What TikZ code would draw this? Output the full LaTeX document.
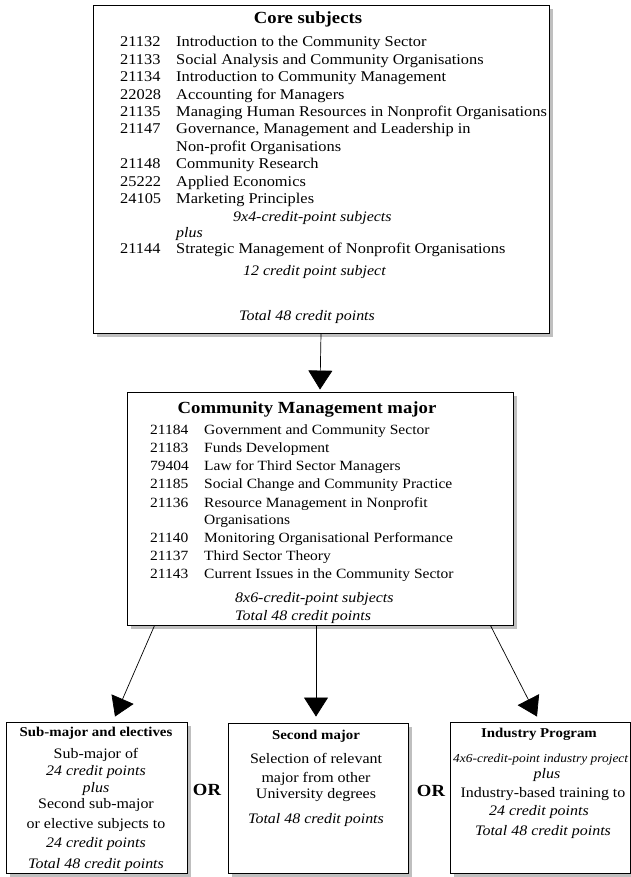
\documentclass[tikz,border=0pt]{standalone}
\usepackage{fontspec}
\setmainfont[FakeStretch=1.1]{Liberation Serif}
\usetikzlibrary{arrows.meta,shadows}

\begin{document}
\begin{tikzpicture}[x=1pt,y=-1pt,
  box/.style={draw=black,line width=0.9pt,fill=white,inner sep=0pt,
    drop shadow={shadow xshift=4pt,shadow yshift=-4pt,fill=gray!50,opacity=1}},
  body/.style={inner sep=0pt,font=\fontsize{14.5}{17}\selectfont},
  row/.style={body,anchor=base west},
  crow/.style={body,anchor=base},
  irow/.style={row,font=\fontsize{14.5}{17}\selectfont\itshape},
  icrow/.style={crow,font=\fontsize{14.5}{17}\selectfont\itshape},
  trow/.style={row,font=\fontsize{14.9}{17}\selectfont},
  mrow/.style={row,font=\fontsize{14.1}{17}\selectfont},
  bigtitle/.style={inner sep=0pt,anchor=base,font=\fontsize{17}{20}\selectfont\bfseries},
  smalltitle/.style={inner sep=0pt,anchor=base,font=\fontsize{13.5}{16}\selectfont\bfseries},
  orlabel/.style={inner sep=0pt,font=\fontsize{17}{20}\selectfont\bfseries},
  conn/.style={line width=0.7pt,-{Triangle[width=24pt,length=19pt]}}
]
\useasboundingbox (0,0) rectangle (631,877);
\clip (0,0) rectangle (631,877);

% ---- boxes ----
\node[box,minimum width=456pt,minimum height=328pt] (core) at (321,169) {};
\node[box,minimum width=386pt,minimum height=233pt] (major) at (320,508.5) {};
\node[box,minimum width=181pt,minimum height=151pt] (subm) at (96.5,797.5) {};
\node[box,minimum width=180pt,minimum height=150pt] (second) at (318,798) {};
\node[box,minimum width=180pt,minimum height=151pt] (industry) at (540,797.5) {};

% ---- core subjects ----
\node[bigtitle] (coreT) at (308,23.5) {Core subjects};
\node[trow] (k1) at (120,47) {21132};   \node[trow] (s1) at (176,47) {Introduction to the Community Sector};
\node[trow] (k2) at (120,64.4) {21133}; \node[trow] (s2) at (176,64.4) {Social Analysis and Community Organisations};
\node[trow] (k3) at (120,81.8) {21134}; \node[trow] (s3) at (176,81.8) {Introduction to Community Management};
\node[trow] (k4) at (120,99.2) {22028}; \node[trow] (s4) at (176,99.2) {Accounting for Managers};
\node[trow] (k5) at (120,116.6) {21135}; \node[trow] (s5) at (176,116.6) {Managing Human Resources in Nonprofit Organisations};
\node[trow] (k6) at (120,134) {21147};  \node[trow] (s6) at (176,134) {Governance, Management and Leadership in};
\node[trow] (s6b) at (176,151.4) {Non-profit Organisations};
\node[trow] (k7) at (120,168.8) {21148}; \node[trow] (s7) at (176,168.8) {Community Research};
\node[trow] (k8) at (120,186.2) {25222}; \node[trow] (s8) at (176,186.2) {Applied Economics};
\node[trow] (k9) at (120,203.6) {24105}; \node[trow] (s9) at (176,203.6) {Marketing Principles};
\node[irow] (c9x4) at (233,222) {9x4-credit-point subjects};
\node[irow] (cplus) at (176,237) {plus};
\node[trow] (k10) at (120,253) {21144}; \node[trow] (s10) at (176,253) {Strategic Management of Nonprofit Organisations};
\node[irow] (c12) at (243,275) {12 credit point subject};
\node[icrow] (ctot) at (307,320) {Total 48 credit points};

% ---- community management major ----
\node[bigtitle] (majT) at (307,413) {Community Management major};
\node[mrow] (m1k) at (150,434) {21184}; \node[mrow] (m1) at (204,434) {Government and Community Sector};
\node[mrow] (m2k) at (150,452) {21183}; \node[mrow] (m2) at (204,452) {Funds Development};
\node[mrow] (m3k) at (150,470) {79404}; \node[mrow] (m3) at (204,470) {Law for Third Sector Managers};
\node[mrow] (m4k) at (150,488) {21185}; \node[mrow] (m4) at (204,488) {Social Change and Community Practice};
\node[mrow] (m5k) at (150,507) {21136}; \node[mrow] (m5) at (204,507) {Resource Management in Nonprofit};
\node[mrow] (m5b) at (204,524) {Organisations};
\node[mrow] (m6k) at (150,542) {21140}; \node[mrow] (m6) at (204,542) {Monitoring Organisational Performance};
\node[mrow] (m7k) at (150,560) {21137}; \node[mrow] (m7) at (204,560) {Third Sector Theory};
\node[mrow] (m8k) at (150,578) {21143}; \node[mrow] (m8) at (204,578) {Current Issues in the Community Sector};
\node[irow] (m8x6) at (235,602) {8x6-credit-point subjects};
\node[irow] (mtot) at (235,620) {Total 48 credit points};

% ---- sub-major and electives ----
\node[smalltitle] (subT) at (96,736.5) {Sub-major and electives};
\node[crow] (sub1) at (96,758) {Sub-major of};
\node[icrow] (sub2) at (96,775) {24 credit points};
\node[icrow] (sub3) at (96,792) {plus};
\node[crow] (sub4) at (96,808) {Second sub-major};
\node[crow] (sub5) at (96,828) {or elective subjects to};
\node[icrow] (sub6) at (96,847) {24 credit points};
\node[icrow] (sub7) at (96,868) {Total 48 credit points};

% ---- second major ----
\node[smalltitle] (secT) at (316,739.5) {Second major};
\node[crow] (sec1) at (316,763) {Selection of relevant};
\node[crow] (sec2) at (316,782) {major from other};
\node[crow] (sec3) at (316,798) {University degrees};
\node[icrow] (sec4) at (316,823) {Total 48 credit points};

% ---- industry program ----
\node[smalltitle] (indT) at (539,737.5) {Industry Program};
\node[inner sep=0pt,anchor=base west,font=\fontsize{12.2}{15}\selectfont\itshape] (ind1) at (453,762) {4x6-credit-point industry project};
\node[icrow] (ind2) at (547,778) {plus};
\node[crow] (ind3) at (543,797) {Industry-based training to};
\node[icrow] (ind4) at (539,815) {24 credit points};
\node[icrow] (ind5) at (543,835) {Total 48 credit points};

% ---- alternatives ----
\node[orlabel] (or1) at (207,790) {OR};
\node[orlabel] (or2) at (431,791) {OR};

% ---- connectors ----
\draw[conn] (core.south) -- ([yshift=2pt]major.north);
\draw[conn] ([xshift=28pt]major.south west) -- ([xshift=18.5pt,yshift=5pt]subm.north);
\draw[conn] ([xshift=-4pt]major.south) -- ([xshift=-2pt,yshift=6pt]second.north);
\draw[conn] ([xshift=-23pt]major.south east) -- ([xshift=-3pt,yshift=5pt]industry.north);
\end{tikzpicture}
\end{document}
